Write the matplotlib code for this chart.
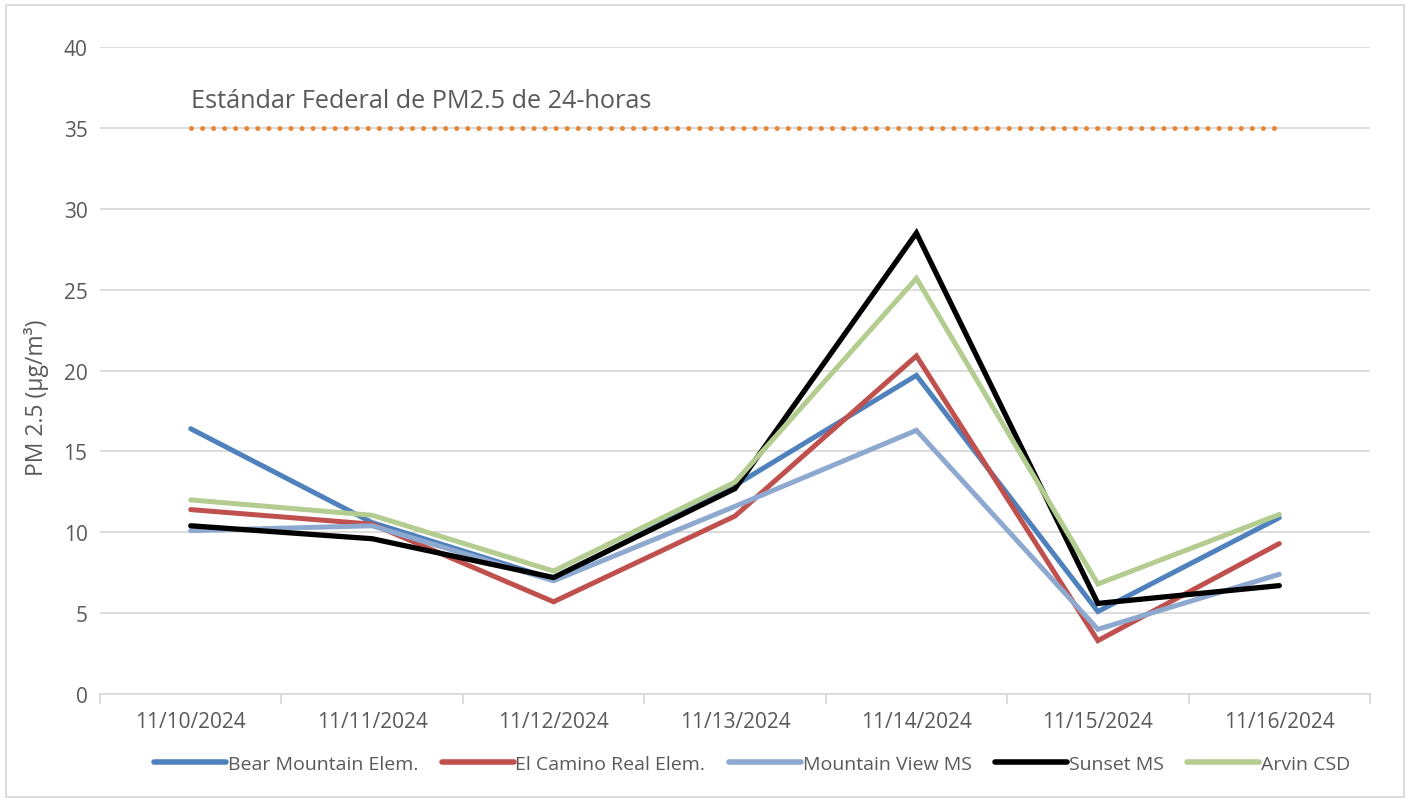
import matplotlib
matplotlib.use("Agg")
import matplotlib.pyplot as plt
from matplotlib.patches import Rectangle

dates = ["11/10/2024", "11/11/2024", "11/12/2024", "11/13/2024",
         "11/14/2024", "11/15/2024", "11/16/2024"]
bear_mountain = [16.4, 10.6, 7.1, 12.9, 19.7, 5.1, 10.9]
el_camino = [11.4, 10.5, 5.7, 11.0, 20.9, 3.3, 9.3]
mountain_view = [10.1, 10.4, 7.0, 11.6, 16.3, 4.0, 7.4]
sunset = [10.4, 9.6, 7.2, 12.7, 28.5, 5.6, 6.7]
arvin = [12.0, 11.05, 7.6, 13.1, 25.7, 6.8, 11.1]
standard = [35] * 7

series_names = ["Bear Mountain Elem.", "El Camino Real Elem.", "Mountain View MS",
                "Sunset MS", "Arvin CSD"]
series_values = [bear_mountain, el_camino, mountain_view, sunset, arvin]
colors = ["#4F81BD", "#C0504D", "#8EA9CF", "#000000", "#B3CC8F"]
widths = [3.6, 3.6, 3.6, 3.8, 3.6]

plt.rcParams['font.family'] = ['Open Sans', 'DejaVu Sans']

fig = plt.figure(figsize=(14.1, 8.04), dpi=100)
ax = fig.add_axes([100/1410, 1 - 695/804, 1270/1410, (695-48)/804])

x = list(range(len(dates)))
ax.plot(x, standard, color="#E88633", lw=3.6, linestyle=(0, (0.01, 2.2)),
        dash_capstyle='round', solid_capstyle='round', zorder=3)
for name, vals, c, w in zip(series_names, series_values, colors, widths):
    ax.plot(x, vals, color=c, lw=w, label=name, solid_capstyle='round',
            solid_joinstyle='miter', zorder=4)

ax.set_xlim(-0.5, len(dates) - 0.5)
ax.set_ylim(0, 40)
ax.set_yticks(range(0, 41, 5))
ax.set_xticks(x)
ax.set_xticklabels(dates)
ax.set_xticks([i - 0.5 for i in range(len(dates) + 1)], minor=True)
ax.grid(axis='y', color="#D9D9D9", lw=1.3)
ax.set_axisbelow(True)
for s in ['top', 'right', 'left']:
    ax.spines[s].set_visible(False)
ax.spines['bottom'].set_color("#D9D9D9")
ax.spines['bottom'].set_linewidth(1.3)
ax.tick_params(axis='x', which='major', length=0, pad=12, labelsize=15, labelcolor="#595959")
ax.tick_params(axis='x', which='minor', length=7, color="#D9D9D9", width=1.3)
ax.tick_params(axis='y', length=0, pad=9, labelsize=15, labelcolor="#595959")

ax.set_ylabel("PM 2.5 (µg/m³)", fontsize=16.5, color="#595959")
ax.yaxis.set_label_coords(-0.040, 0.46)

ax.text(0, 36.7, "Estándar Federal de PM2.5 de 24-horas", fontsize=18.2,
        color="#595959", ha='left', va='center')

leg = fig.legend(loc='center', bbox_to_anchor=(752/1410, 1 - 765/804), ncol=5,
                 frameon=False, fontsize=14, handlelength=3.7, handletextpad=0.1,
                 columnspacing=1.2)
for t in leg.get_texts():
    t.set_color("#595959")
for h in leg.legend_handles:
    h.set_linewidth(4.0)

fig.patches.append(Rectangle((6/1410, 6/804), 1 - 12/1410, 1 - 12/804,
                             transform=fig.transFigure, fill=False,
                             edgecolor="#D9D9D9", lw=1.3))

fig.savefig("out.png", dpi=100)
